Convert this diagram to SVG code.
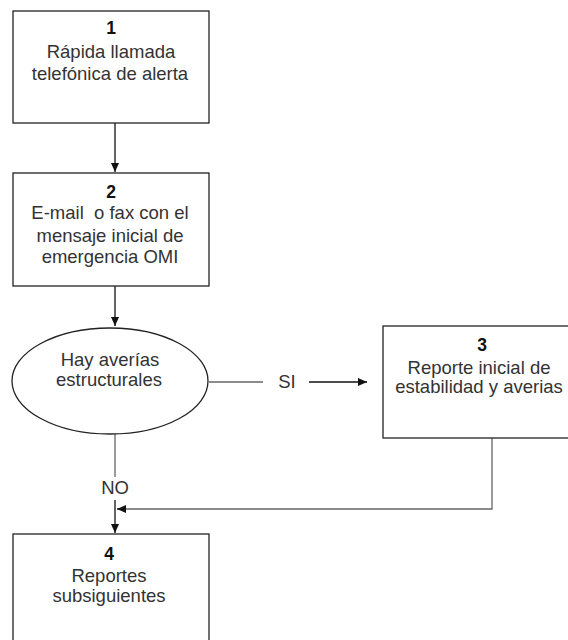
<svg xmlns="http://www.w3.org/2000/svg" width="568" height="640" viewBox="0 0 568 640">
<defs>
<style>
.box{fill:#fff;stroke:#222;stroke-width:1.3}
.t{font-family:"Liberation Sans",Arial,sans-serif;font-size:18.5px;fill:#333;text-anchor:middle}
.n{font-family:"Liberation Sans",Arial,sans-serif;font-size:17.5px;font-weight:bold;fill:#111;text-anchor:middle}
.c{fill:none;stroke:#111;stroke-width:1.3}
.g{fill:none;stroke:#666;stroke-width:1.3}
</style>
<marker id="ah" markerWidth="10" markerHeight="10" refX="9" refY="5" orient="auto" markerUnits="userSpaceOnUse">
<path d="M0,1 L9,5 L0,9 Z" fill="#111"/>
</marker>
</defs>
<rect width="568" height="640" fill="#fff"/>
<g id="connectors">
<line class="c" x1="115" y1="123" x2="115" y2="172" marker-end="url(#ah)"/>
<line class="c" x1="115" y1="286" x2="115" y2="326" marker-end="url(#ah)"/>
<line class="g" x1="209" y1="382" x2="263" y2="382"/>
<text class="t" x="287" y="388">SI</text>
<line class="c" x1="309" y1="382" x2="367" y2="382" marker-end="url(#ah)"/>
<line class="g" x1="115" y1="434" x2="115" y2="477"/>
<text class="t" x="115" y="494">NO</text>
<line class="c" x1="115" y1="500" x2="115" y2="533" marker-end="url(#ah)"/>
<polyline class="g" points="492,438 492,509 125,509"/>
<line class="c" x1="125" y1="509" x2="117" y2="509" marker-end="url(#ah)"/>
</g>
<g id="node1">
<rect class="box" x="13" y="11" width="196" height="112"/>
<text class="n" x="111" y="34">1</text>
<text class="t" x="111" y="58">Rápida llamada</text>
<text class="t" x="110" y="80">telefónica de alerta</text>
</g>
<g id="node2">
<rect class="box" x="13" y="173" width="196" height="113"/>
<text class="n" x="111" y="198">2</text>
<text class="t" x="110" y="219">E-mail&#160; o fax con el</text>
<text class="t" x="110" y="242">mensaje inicial de</text>
<text class="t" x="110" y="263">emergencia OMI</text>
</g>
<g id="decision">
<ellipse cx="110" cy="381" rx="98" ry="53" fill="#fff" stroke="#222" stroke-width="1.3"/>
<text class="t" x="110" y="366">Hay averías</text>
<text class="t" x="109" y="386">estructurales</text>
</g>
<g id="node3">
<rect class="box" x="383" y="326" width="200" height="112"/>
<text class="n" x="482" y="351">3</text>
<text class="t" x="479" y="374">Reporte inicial de</text>
<text class="t" x="479" y="393">estabilidad y averias</text>
</g>
<g id="node4">
<rect class="box" x="13" y="534" width="196" height="120"/>
<text class="n" x="109" y="560">4</text>
<text class="t" x="109" y="582">Reportes</text>
<text class="t" x="109" y="602">subsiguientes</text>
</g>
</svg>
